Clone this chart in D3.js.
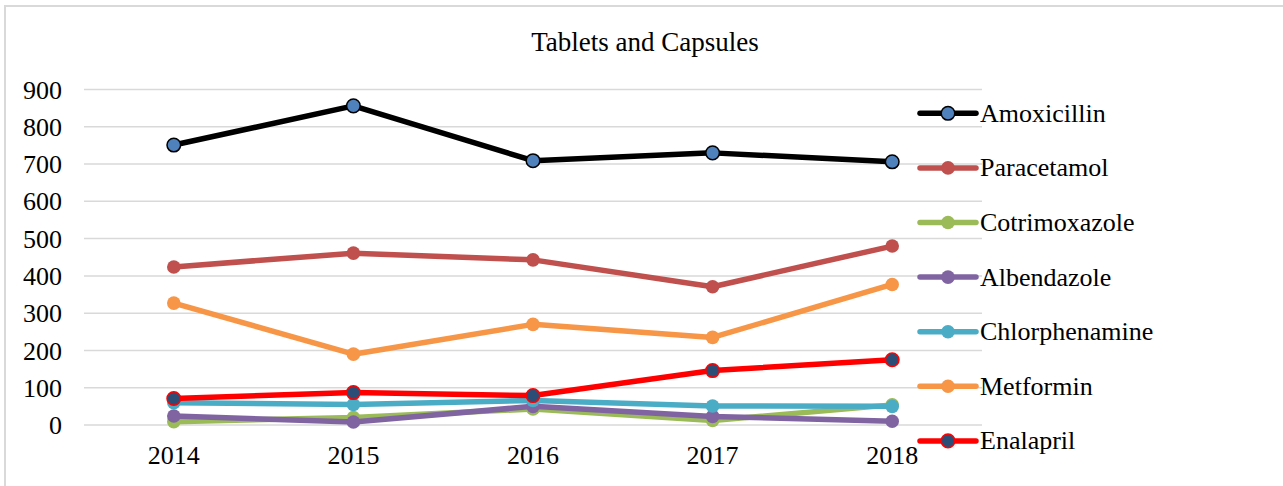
<!DOCTYPE html>
<html>
<head>
<meta charset="utf-8">
<script src="https://cdn.jsdelivr.net/npm/d3@7"></script>
<style>
  html, body { margin: 0; padding: 0; background: #fff; }
  svg { display: block; }
  svg text { font-family: "Liberation Serif", "Times New Roman", Times, serif !important; fill: #000; }
</style>
</head>
<body>
<svg id="chart" width="1283" height="486"></svg>
<script>
const years = ["2014", "2015", "2016", "2017", "2018"];
const yTicks = [0, 100, 200, 300, 400, 500, 600, 700, 800, 900];
const seriesNames = ["Amoxicillin", "Paracetamol", "Cotrimoxazole", "Albendazole", "Chlorphenamine", "Metformin", "Enalapril"];
const amoxicillin    = [751, 856, 709, 730, 706];
const paracetamol    = [424, 461, 443, 371, 480];
const cotrimoxazole  = [9, 20, 43, 12, 54];
const albendazole    = [24, 8, 50, 23, 10];
const chlorphenamine = [60, 55, 66, 51, 50];
const metformin      = [327, 190, 270, 235, 377];
const enalapril      = [71, 87, 79, 146, 175];
const title = "Tablets and Capsules";

const seriesValues = [amoxicillin, paracetamol, cotrimoxazole, albendazole, chlorphenamine, metformin, enalapril];
const styles = [
  { line: "#000000", fill: "#4f81bd", stroke: "#000000", sw: 1.5 },
  { line: "#c0504d", fill: "#c0504d", stroke: "#c0504d", sw: 0 },
  { line: "#9bbb59", fill: "#9bbb59", stroke: "#9bbb59", sw: 0 },
  { line: "#8064a2", fill: "#8064a2", stroke: "#8064a2", sw: 0 },
  { line: "#4bacc6", fill: "#4bacc6", stroke: "#4bacc6", sw: 0 },
  { line: "#f79646", fill: "#f79646", stroke: "#f79646", sw: 0 },
  { line: "#ff0000", fill: "#2c4d75", stroke: "#ff0000", sw: 1.5 }
];
const FONT = "Liberation Serif, Times New Roman, serif";

const svg = d3.select("#chart");

// outer chart border
svg.append("rect").attr("x", 5).attr("y", 6).attr("width", 1300).attr("height", 500)
  .attr("fill", "none").attr("stroke", "#d9d9d9").attr("stroke-width", 2);

const x = d3.scaleBand().domain(years).range([84, 982]).padding(0);
const y = d3.scaleLinear().domain([0, 900]).range([425, 89.5]);

// gridlines
svg.append("g").selectAll("line").data(yTicks).join("line")
  .attr("x1", 84).attr("x2", 982)
  .attr("y1", d => y(d)).attr("y2", d => y(d))
  .attr("stroke", "#d9d9d9").attr("stroke-width", 1.5);

// y axis
const yAxis = svg.append("g").attr("transform", "translate(84,0)")
  .call(d3.axisLeft(y).tickValues(yTicks).tickSize(0).tickPadding(22));
yAxis.attr("font-family", FONT).attr("font-size", 26);
yAxis.select(".domain").remove();
yAxis.selectAll("text").attr("dy", "0.33em");

// x axis
const xAxis = svg.append("g").attr("transform", "translate(0,425)")
  .call(d3.axisBottom(x).tickSize(0).tickPadding(21));
xAxis.attr("font-family", FONT).attr("font-size", 26);
xAxis.select(".domain").remove();

// title
svg.append("text").attr("x", 645).attr("y", 51).attr("text-anchor", "middle")
  .attr("font-family", FONT).attr("font-size", 27).text(title);

const line = d3.line().x((d, i) => x(years[i]) + x.bandwidth() / 2).y(d => y(d));

seriesValues.forEach((vals, si) => {
  const st = styles[si];
  const g = svg.append("g");
  g.append("path").datum(vals).attr("d", line)
    .attr("fill", "none").attr("stroke", st.line).attr("stroke-width", 5.5)
    .attr("stroke-linejoin", "round").attr("stroke-linecap", "round");
  g.selectAll("circle").data(vals).join("circle")
    .attr("cx", (d, i) => x(years[i]) + x.bandwidth() / 2)
    .attr("cy", d => y(d))
    .attr("r", 6.8)
    .attr("fill", st.fill)
    .attr("stroke", st.stroke).attr("stroke-width", st.sw);
});

// legend
const legend = svg.append("g").attr("font-family", FONT).attr("font-size", 26);
seriesNames.forEach((name, i) => {
  const st = styles[i];
  const ly = 113.3 + i * 54.6;
  const g = legend.append("g");
  g.append("line").attr("x1", 920).attr("x2", 976).attr("y1", ly).attr("y2", ly)
    .attr("stroke", st.line).attr("stroke-width", 5.5).attr("stroke-linecap", "round");
  g.append("circle").attr("cx", 948).attr("cy", ly).attr("r", 6.8)
    .attr("fill", st.fill).attr("stroke", st.stroke).attr("stroke-width", st.sw);
  g.append("text").attr("x", 980).attr("y", ly + 8.5).text(name);
});
</script>
</body>
</html>
